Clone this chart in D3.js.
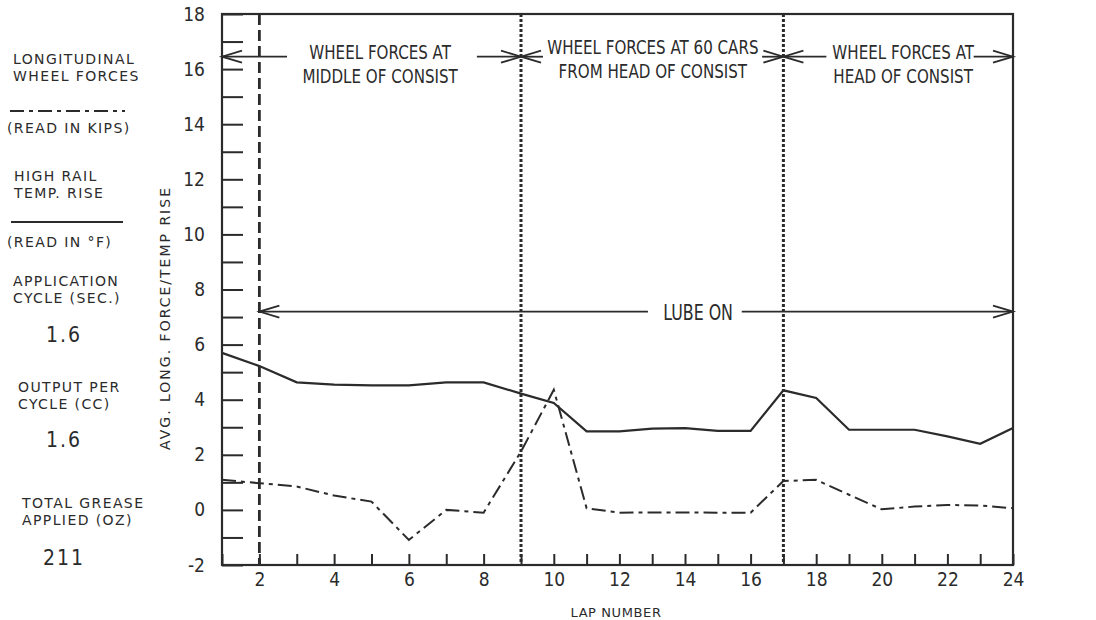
<!DOCTYPE html>
<html>
<head>
<meta charset="utf-8">
<script src="https://cdn.jsdelivr.net/npm/d3@7"></script>
<style>
body { margin: 0; background: #fff; }
svg text { fill: #2b2b2b; }
.narrow { font-family: "Liberation Sans Narrow", "DejaVu Sans Condensed", sans-serif; }
.caps { font-family: "DejaVu Sans", sans-serif; }
</style>
</head>
<body>
<svg id="chart" width="1096" height="620"></svg>
<script>
// Lap-by-lap readings: high rail temperature rise (solid) and longitudinal wheel force (dash-dot)
var laps = d3.range(1, 25);
var tempRise = [5.70, 5.22, 4.63, 4.55, 4.52, 4.52, 4.63, 4.63, 4.22, 3.88, 2.85, 2.85,
                2.95, 2.97, 2.87, 2.87, 4.34, 4.06, 2.91, 2.91, 2.91, 2.67, 2.40, 2.97];
var longForce = [1.09, 0.97, 0.85, 0.52, 0.30, -1.09, 0.00, -0.10, 2.12, 4.36, 0.06, -0.10,
                 -0.09, -0.09, -0.10, -0.10, 1.05, 1.09, 0.55, 0.02, 0.12, 0.18, 0.16, 0.06];

var yTicks = d3.range(-2, 19);
var xTicks = d3.range(1, 25);

// test sections (laps where the measuring car moved) and lube start
var lubeStartLap = 2;
var sectionLaps = [9, 17];
var sectionNames = [["WHEEL FORCES AT", "MIDDLE OF CONSIST"],
                    ["WHEEL FORCES AT 60 CARS", "FROM HEAD OF CONSIST"],
                    ["WHEEL FORCES AT", "HEAD OF CONSIST"]];
var sectionCenters = [5.23, 13.02, 20.65];
var sectionArrowLevel = 16.45;
// arrows as [tail lap, tip lap]
var sectionArrows = [[2.74, 1], [7.82, 9], [9.67, 9], [16.35, 17], [18.31, 17], [22.8, 24]];
var lubeLabel = "LUBE ON";
var lubeLevel = 7.2;
var lubeCenter = 14.4;
var lubeArrows = [[12.87, 2], [15.73, 24]];

var legendLines = [
    ["LONGITUDINAL", "WHEEL FORCES"],
    ["(READ IN KIPS)"],
    ["HIGH RAIL", "TEMP. RISE"],
    ["(READ IN \u00B0F)"],
    ["APPLICATION", "CYCLE (SEC.)"],
    ["OUTPUT PER", "CYCLE (CC)"],
    ["TOTAL GREASE", "APPLIED (OZ)"]
];
var settingValues = ["1.6", "1.6", "211"];

var ink = "#2b2b2b";
var svg = d3.select("#chart");

// the scanned axis is not evenly spaced: laps 1-9 are wider than 9-24
var x = d3.scaleLinear().domain([1, 9, 24]).range([222, 521, 1013]);
var y = d3.scaleLinear().domain([-2, 18]).range([565, 14]);

var yAxis = d3.axisLeft(y).tickValues(yTicks).tickSize(-21).tickPadding(17)
    .tickFormat(function(d) { return d % 2 === 0 ? String(d) : ""; });
var gy = svg.append("g").attr("transform", "translate(" + x(1) + ",0)").call(yAxis);
gy.select(".domain").remove();

var xAxis = d3.axisBottom(x).tickValues(xTicks).tickSize(-11).tickPadding(8)
    .tickFormat(function(d) { return d % 2 === 0 ? String(d) : ""; });
var gx = svg.append("g").attr("transform", "translate(0," + y(-2) + ")").call(xAxis);
gx.select(".domain").remove();

[gx, gy].forEach(function(g) {
    g.selectAll("line").attr("stroke", ink).attr("stroke-width", 2);
    g.selectAll("text").attr("class", "narrow").style("font-size", "19px").attr("fill", ink);
});

// frame
svg.append("rect")
    .attr("x", x(1)).attr("y", y(18))
    .attr("width", x(24) - x(1)).attr("height", y(-2) - y(18))
    .attr("fill", "none").attr("stroke", ink).attr("stroke-width", 2.2);

// lube start and section boundaries
svg.append("line")
    .attr("x1", x(lubeStartLap)).attr("x2", x(lubeStartLap))
    .attr("y1", y(18)).attr("y2", y(-2))
    .attr("stroke", ink).attr("stroke-width", 2.8).attr("stroke-dasharray", "11,5");

svg.selectAll(".section").data(sectionLaps).enter().append("line")
    .attr("class", "section")
    .attr("x1", x).attr("x2", x)
    .attr("y1", y(18)).attr("y2", y(-2))
    .attr("stroke", ink).attr("stroke-width", 3).attr("stroke-dasharray", "3,2");

function arrow(g, tail, tip, level) {
    var dir = tip > tail ? 1 : -1;
    var ty = y(level), tx = x(tip);
    g.append("line")
        .attr("x1", x(tail)).attr("x2", tx).attr("y1", ty).attr("y2", ty)
        .attr("stroke", ink).attr("stroke-width", 1.8);
    g.append("path")
        .attr("d", "M" + (tx - dir * 20) + "," + (ty - 6) + "L" + tx + "," + ty + "L" + (tx - dir * 20) + "," + (ty + 6))
        .attr("fill", "none").attr("stroke", ink).attr("stroke-width", 1.8);
}

// squeezed lettering like the original stencil, one text per line
function stencil(g, cx, top, lines, size, step, sx, sy) {
    lines.forEach(function(s, j) {
        g.append("text").attr("class", "narrow")
            .attr("text-anchor", "middle").style("font-size", size + "px")
            .attr("transform", "translate(" + cx + "," + (top + j * step) + ") scale(" + sx + "," + sy + ")")
            .text(s);
    });
}

var ann = svg.append("g");
sectionArrows.forEach(function(a) { arrow(ann, a[0], a[1], sectionArrowLevel); });
lubeArrows.forEach(function(a) { arrow(ann, a[0], a[1], lubeLevel); });

sectionNames.forEach(function(lines, i) {
    stencil(ann, x(sectionCenters[i]), y(sectionArrowLevel) + (i === 1 ? -3 : 2), lines, 20, 24, 0.84, 1.0);
});
stencil(ann, x(lubeCenter), y(lubeLevel) + 8, [lubeLabel], 20, 0, 0.88, 1.1);

// data lines
var line = d3.line()
    .x(function(d, i) { return x(laps[i]); })
    .y(function(d) { return y(d); });

svg.append("path").datum(tempRise)
    .attr("d", line).attr("fill", "none")
    .attr("stroke", ink).attr("stroke-width", 2.2);

svg.append("path").datum(longForce)
    .attr("d", line).attr("fill", "none")
    .attr("stroke", ink).attr("stroke-width", 2)
    .attr("stroke-dasharray", "14,5,4,5");

// axis titles
svg.append("text").attr("class", "caps")
    .attr("transform", "translate(170,318) rotate(-90)")
    .attr("text-anchor", "middle")
    .style("font-size", "14px").style("letter-spacing", "2px")
    .text("AVG. LONG. FORCE/TEMP RISE");

svg.append("text").attr("class", "caps")
    .attr("x", 616).attr("y", 617)
    .attr("text-anchor", "middle")
    .style("font-size", "13px").style("letter-spacing", "0.6px")
    .text("LAP NUMBER");

// left-hand key
var leg = svg.append("g");
var legendPos = [[13, 64], [7, 133], [14, 181], [7, 247], [13, 286], [18, 392], [22, 508]];
legendLines.forEach(function(lines, i) {
    lines.forEach(function(s, j) {
        leg.append("text").attr("class", "caps")
            .attr("x", legendPos[i][0]).attr("y", legendPos[i][1] + j * 16.5)
            .style("font-size", "14px").style("letter-spacing", "1.4px")
            .text(s);
    });
});

leg.append("line").attr("x1", 10).attr("x2", 125).attr("y1", 111).attr("y2", 111)
    .attr("stroke", ink).attr("stroke-width", 2).attr("stroke-dasharray", "14,5,4,5");
leg.append("line").attr("x1", 11).attr("x2", 123).attr("y1", 222).attr("y2", 222)
    .attr("stroke", ink).attr("stroke-width", 2.2);

var valueY = [342, 447, 565];
settingValues.forEach(function(v, i) {
    leg.append("text").attr("class", "narrow")
        .attr("x", 64).attr("y", valueY[i])
        .attr("text-anchor", "middle")
        .style("font-size", "21px").style("letter-spacing", "2px")
        .text(v);
});
</script>
</body>
</html>
